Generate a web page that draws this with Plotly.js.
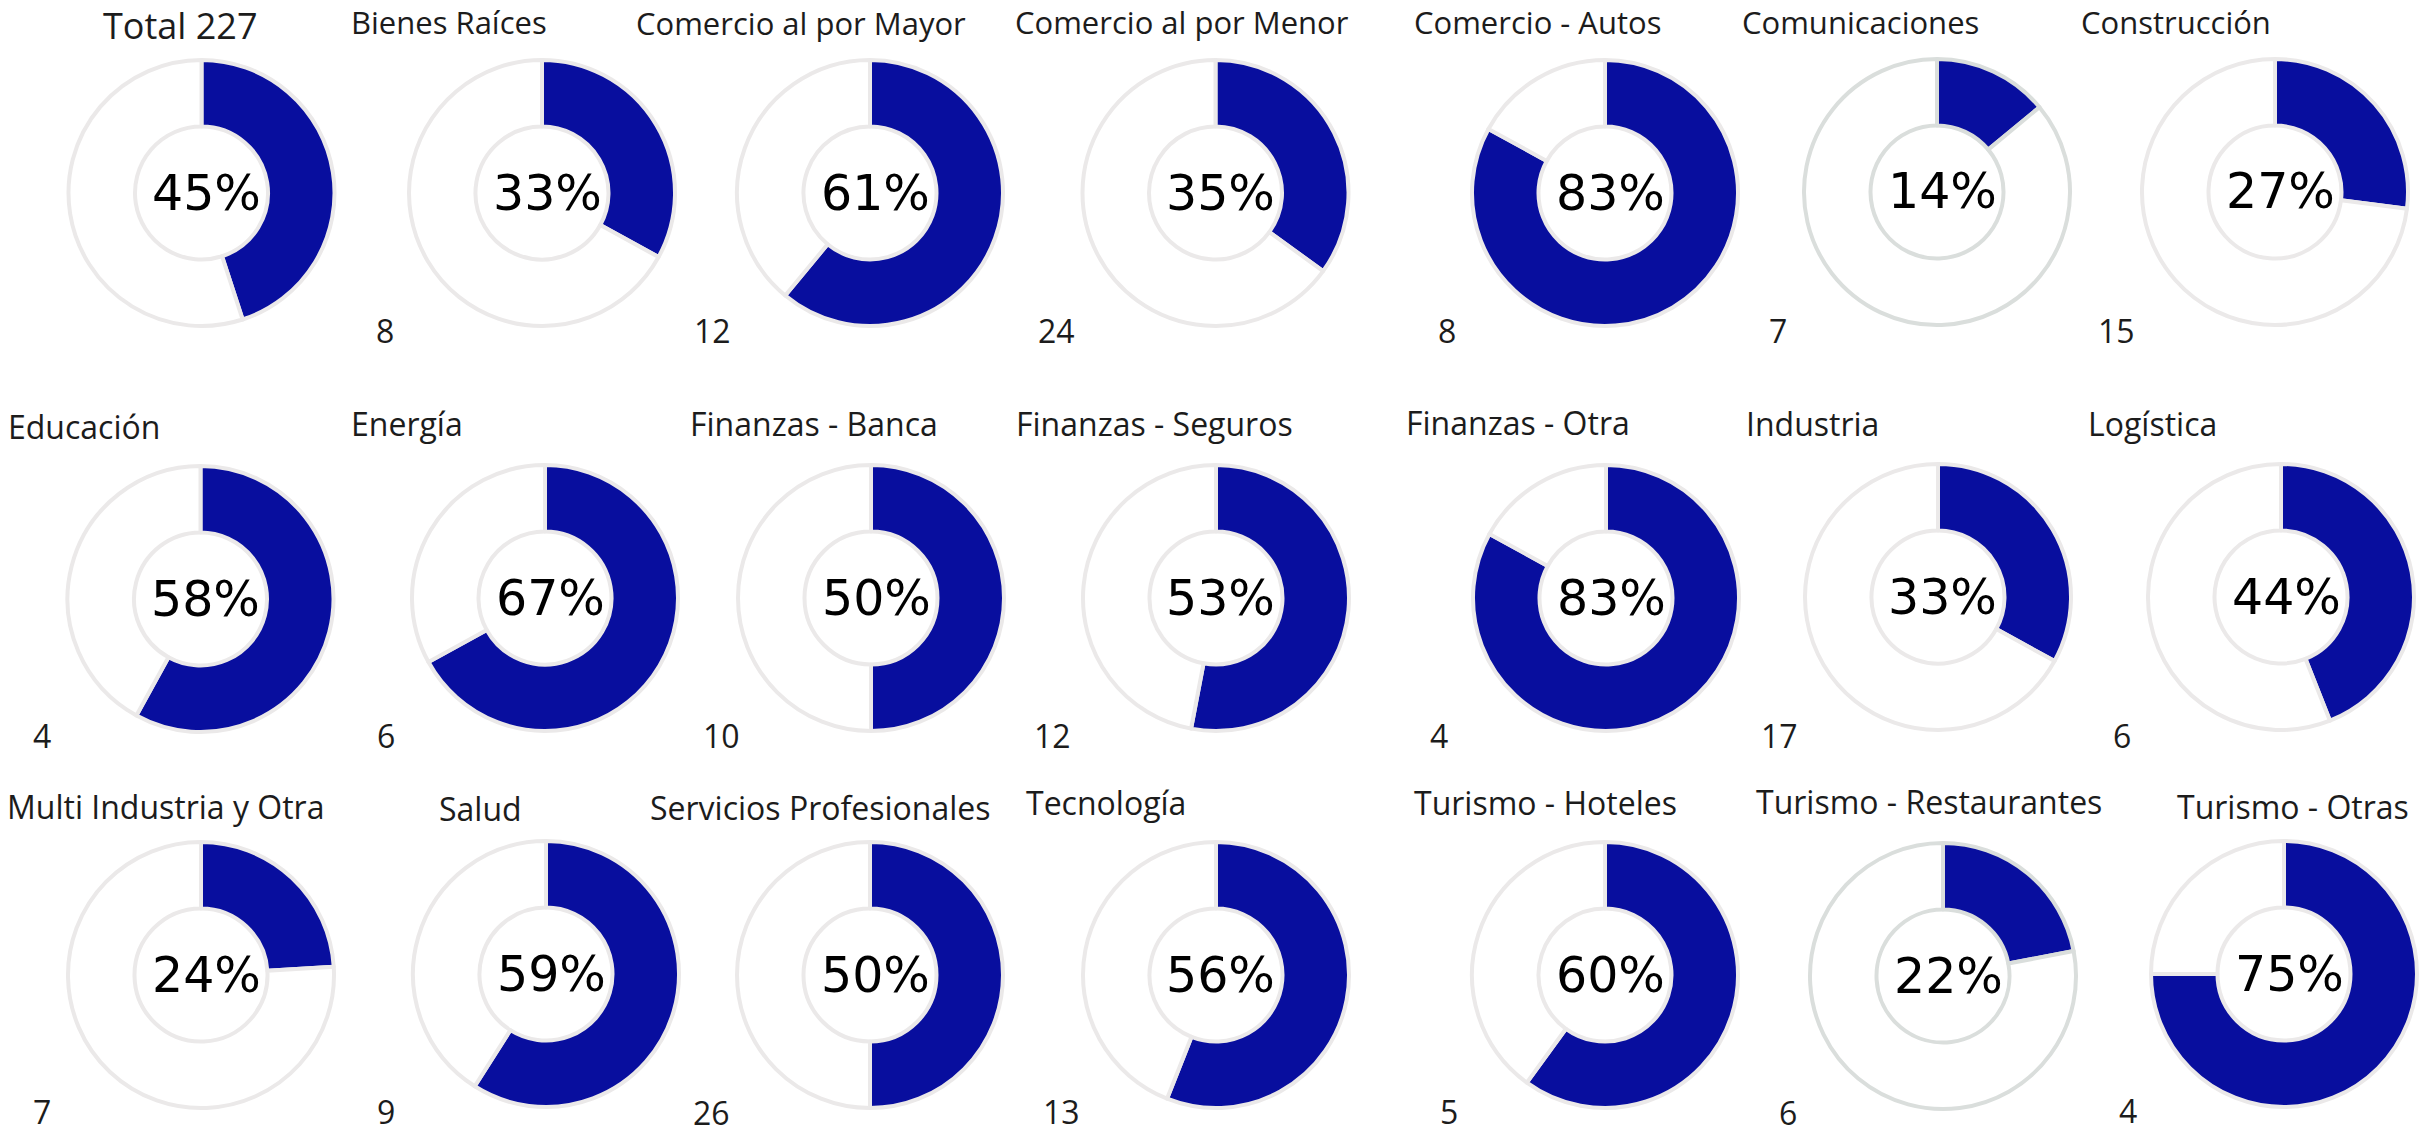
<!DOCTYPE html>
<html>
<head>
<meta charset="utf-8">
<script src="https://cdn.plot.ly/plotly-3.0.1.min.js"></script>
<style>html,body{margin:0;padding:0;background:#ffffff;}</style>
</head>
<body>
<div id="chart" style="width:2432px;height:1135px;"></div>
<script>
// ---------- DATA ----------
const sectors = [
  'Total', 'Bienes Raíces', 'Comercio al por Mayor', 'Comercio al por Menor', 'Comercio - Autos', 'Comunicaciones', 'Construcción',
  'Educación', 'Energía', 'Finanzas - Banca', 'Finanzas - Seguros', 'Finanzas - Otra', 'Industria', 'Logística',
  'Multi Industria y Otra', 'Salud', 'Servicios Profesionales', 'Tecnología', 'Turismo - Hoteles', 'Turismo - Restaurantes', 'Turismo - Otras'
];
const percentages = [45, 33, 61, 35, 83, 14, 27, 58, 67, 50, 53, 83, 33, 44, 24, 59, 50, 56, 60, 22, 75];
const counts = [227, 8, 12, 24, 8, 7, 15, 4, 6, 10, 12, 4, 17, 6, 7, 9, 26, 13, 5, 6, 4];

// ---------- LAYOUT (pixel positions in the 2432x1135 page) ----------
const W = 2432, H = 1135, R = 133;
const centerX = [201.5, 542, 870, 1215.5, 1605, 1937, 2275,
                 200.5, 545, 871, 1216, 1606, 1938, 2281,
                 201, 546, 870, 1216, 1605, 1943, 2284];
const centerY = [193, 193, 193, 193, 193, 192, 192,
                 599, 598, 598, 598, 598, 597, 597,
                 975, 974, 975, 975, 975, 976, 974];
const titleX = [180.5, 352, 637, 1016, 1415, 1743, 2082,
                9, 352, 691, 1017, 1407, 1747, 2089,
                8, 440, 651, 1027, 1415, 1757, 2178];
const titleBase = [39, 34.5, 35, 34.5, 34.5, 34.5, 34.5,
                   438.5, 436, 436, 436, 435, 436, 436,
                   818.5, 821, 820, 815, 815, 813.5, 818.5];
const titleSize = [36, 31, 31, 31, 31, 31, 31,
                   32, 32, 32, 32, 32, 32, 32,
                   32, 32, 32, 32, 32, 32, 32];
const countX = [null, 377, 695, 1039, 1439, 1770, 2099,
                34, 378, 704, 1035, 1431, 1762, 2114,
                34, 378, 694, 1044, 1441, 1780, 2120];
const countBase = [null, 343, 343, 343, 343, 343, 343,
                   748, 748, 748, 748, 748, 748, 748,
                   1124, 1124, 1125, 1124, 1124, 1125, 1123];
const ringLine = ['#ebe9e9', '#ebe9e9', '#ebe9e9', '#ebe9e9', '#ebe9e9', '#dadedc', '#ebe9e9',
                  '#ebe9e9', '#ebe9e9', '#ebe9e9', '#ebe9e9', '#ebe9e9', '#ebe9e9', '#ebe9e9',
                  '#ebe9e9', '#ebe9e9', '#ebe9e9', '#ebe9e9', '#ebe9e9', '#dadedc', '#ebe9e9'];
const BLUE = '#080e9e';
const TXT = '#1c1c1c';
const SANS = '"Open Sans", "Noto Sans", sans-serif';

const px2x = v => v / W;
const px2y = v => 1 - v / H;

const traces = [];
const annotations = [];
sectors.forEach((name, i) => {
  const p = percentages[i];
  traces.push({
    type: 'pie',
    values: [p, 100 - p],
    labels: ['Sí', 'No'],
    sort: false,
    direction: 'clockwise',
    rotation: 0,
    hole: 0.5,
    domain: {
      x: [px2x(centerX[i] - R), px2x(centerX[i] + R)],
      y: [px2y(centerY[i] + R), px2y(centerY[i] - R)]
    },
    marker: { colors: [BLUE, '#ffffff'], line: { color: ringLine[i], width: 4 } },
    textinfo: 'none',
    hoverinfo: 'skip',
    showlegend: false
  });

  // percentage in the hole
  annotations.push({
    xref: 'paper', yref: 'paper',
    x: px2x(centerX[i] + 5), y: px2y(centerY[i]),
    xanchor: 'center', yanchor: 'middle',
    text: p + '%', showarrow: false,
    font: { family: '"DejaVu Sans", Verdana, sans-serif', size: 49, color: '#000000' }
  });

  // title
  const fs = titleSize[i];
  if (i === 0) {
    annotations.push({
      xref: 'paper', yref: 'paper',
      x: px2x(titleX[i]), y: px2y(titleBase[i] - 0.388 * fs),
      xanchor: 'center', yanchor: 'middle',
      text: name + ' ' + counts[i], showarrow: false,
      font: { family: SANS, size: fs, color: TXT }
    });
  } else {
    annotations.push({
      xref: 'paper', yref: 'paper',
      x: px2x(titleX[i] - 3), y: px2y(titleBase[i] - 0.388 * fs),
      xanchor: 'left', yanchor: 'middle',
      text: name, showarrow: false,
      font: { family: SANS, size: fs, color: TXT }
    });
    annotations.push({
      xref: 'paper', yref: 'paper',
      x: px2x(countX[i] - 3), y: px2y(countBase[i] - 0.388 * 32),
      xanchor: 'left', yanchor: 'middle',
      text: String(counts[i]), showarrow: false,
      font: { family: SANS, size: 32, color: TXT }
    });
  }
});

const layout = {
  width: W, height: H,
  margin: { l: 0, r: 0, t: 0, b: 0, pad: 0 },
  paper_bgcolor: '#ffffff',
  plot_bgcolor: '#ffffff',
  showlegend: false,
  annotations: annotations
};

Plotly.newPlot('chart', traces, layout, { displayModeBar: false, staticPlot: true });
</script>
</body>
</html>
